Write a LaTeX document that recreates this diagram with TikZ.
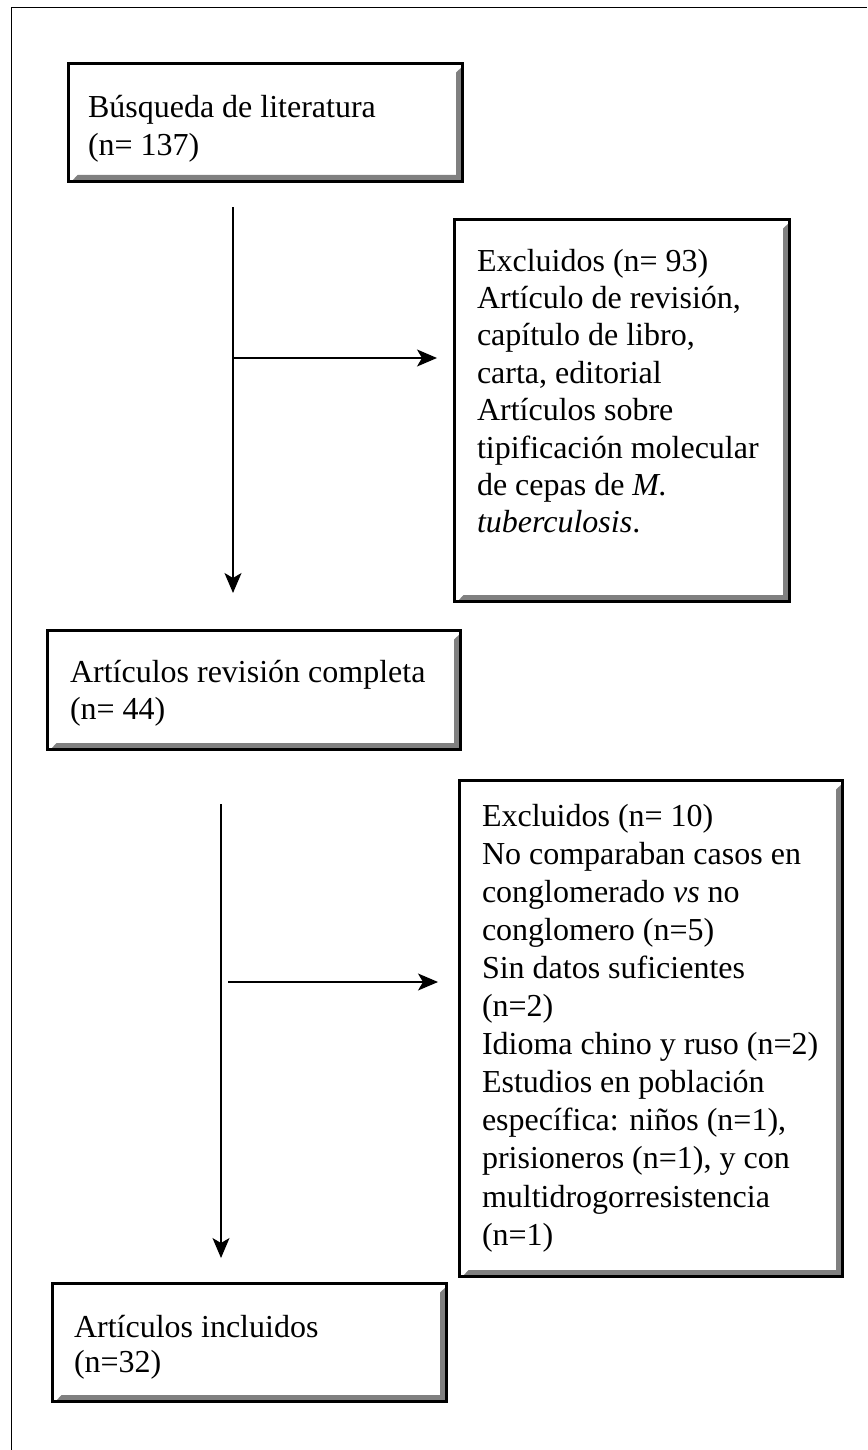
\documentclass[tikz,border=0pt]{standalone}
\usepackage{fontspec}
\setmainfont{Liberation Serif}
\usetikzlibrary{arrows.meta}
\definecolor{shadegray}{HTML}{808080}
\tikzset{
  flowbox/.style={draw=black, line width=3pt, fill=white, inner sep=0pt, outer sep=0pt,
    anchor=north west, rectangle,
    path picture={
      \fill[shadegray]
        ([xshift=-6.5pt,yshift=-9pt]path picture bounding box.north east) --
        ([yshift=-3pt]path picture bounding box.north east) --
        (path picture bounding box.south east) --
        ([xshift=3pt]path picture bounding box.south west) --
        ([xshift=9pt,yshift=6.5pt]path picture bounding box.south west) --
        ([xshift=-6.5pt,yshift=6.5pt]path picture bounding box.south east) -- cycle;
    }},
  boxtext/.style={inner sep=0pt, outer sep=0pt, anchor=base west, align=left,
    font=\fontsize{32}{37.5}\selectfont},
  flowarrow/.style={draw=black, line width=1.2pt,
    -{Stealth[length=20pt, width=17pt, inset=5pt]}},
  frameline/.style={draw=black, line width=1.4pt}
}
\begin{document}
\begin{tikzpicture}[x=1pt, y=-1pt]
\useasboundingbox (0,0) rectangle (867,1450);

% outer frame (top and left)
\coordinate (fbl) at (11.5,1450);
\coordinate (ftl) at (11.5,7.3);
\coordinate (ftr) at (867,7.3);
\draw[frameline] (fbl) -- (ftl) -- (ftr);

% boxes
\node[flowbox, minimum width=394pt, minimum height=118pt] (b1) at (68.5,63.5) {};
\node[flowbox, minimum width=335pt, minimum height=382pt] (b2) at (454.5,219.5) {};
\node[flowbox, minimum width=413pt, minimum height=119pt] (b3) at (47.5,630.5) {};
\node[flowbox, minimum width=383pt, minimum height=496pt] (b4) at (459.5,780.5) {};
\node[flowbox, minimum width=394pt, minimum height=118pt] (b5) at (52.5,1283.5) {};

% texts
\node[boxtext] (t1) at (88,118) {\parbox[t]{370pt}{\raggedright B\'usqueda de literatura\\(n= 137)}};
\node[boxtext] (t2) at (477,271) {\parbox[t]{310pt}{\fontsize{32}{37.4}\selectfont\raggedright
Excluidos (n= 93)\\
Art\'iculo de revisi\'on,\\
cap\'itulo de libro,\\
carta, editorial\\
Art\'iculos sobre\\
tipificaci\'on molecular\\
de cepas de \textit{M.}\\
\textit{tuberculosis}.}};
\node[boxtext] (t3) at (70,682) {\parbox[t]{390pt}{\fontsize{32}{37}\selectfont\raggedright Art\'iculos revisi\'on completa\\(n= 44)}};
\node[boxtext] (t4) at (482,826) {\parbox[t]{360pt}{\fontsize{32}{38.1}\selectfont\raggedright
Excluidos (n= 10)\\
No comparaban casos en\\
conglomerado \textit{vs} no\\
conglomero (n=5)\\
Sin datos suficientes\\
(n=2)\\
Idioma chino y ruso (n=2)\\
Estudios en poblaci\'on\\
espec\'ifica: ni\~nos (n=1),\\
prisioneros (n=1), y con\\
multidrogorresistencia\\
(n=1)}};
\node[boxtext] (t5) at (74,1337) {\parbox[t]{370pt}{\fontsize{32}{35.5}\selectfont\raggedright Art\'iculos incluidos\\(n=32)}};

% connectors
\coordinate (a1s) at (233,207);
\coordinate (a1e) at (233,593);
\coordinate (h1s) at (233,358);
\coordinate (h1e) at (437,358);
\coordinate (a2s) at (221,804);
\coordinate (a2e) at (221,1258);
\coordinate (h2s) at (228,982);
\coordinate (h2e) at (438,982);
\draw[flowarrow] (a1s) -- (a1e);
\draw[flowarrow] (h1s) -- (h1e);
\draw[flowarrow] (a2s) -- (a2e);
\draw[flowarrow] (h2s) -- (h2e);
\end{tikzpicture}
\end{document}
